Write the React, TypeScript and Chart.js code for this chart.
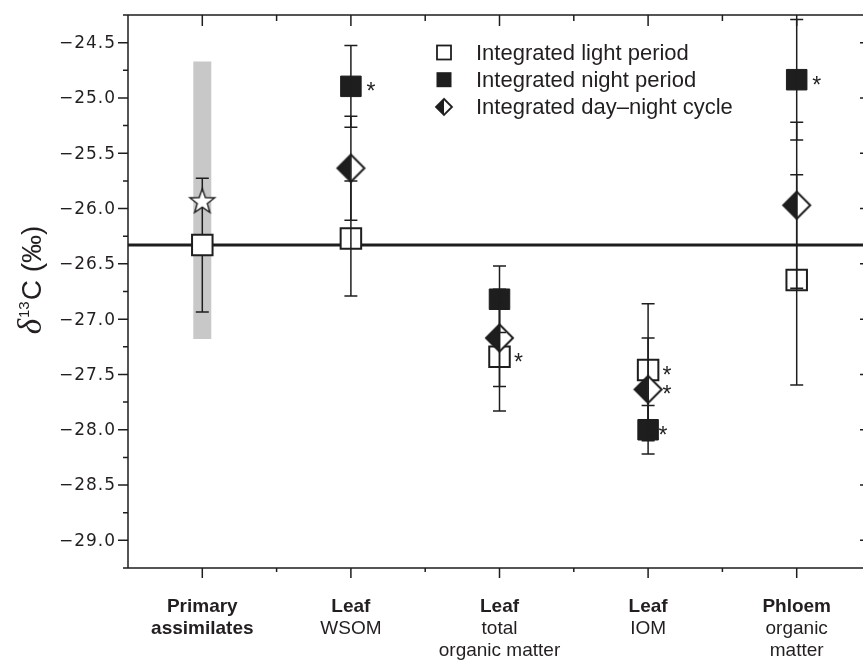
import React, { useEffect, useRef } from 'react';
import { Chart, registerables } from 'chart.js';

Chart.register(...registerables);

// ---------- data ----------
const categoryBoldLines: string[][] = [['Primary', 'assimilates'], ['Leaf'], ['Leaf'], ['Leaf'], ['Phloem']];
const categoryNormalLines: string[][] = [[], ['WSOM'], ['total', 'organic matter'], ['IOM'], ['organic', 'matter']];

const lightMean = [-26.33, -26.27, -27.34, -27.46, -26.645];
const lightErr = [0.605, 0.52, 0.49, 0.6, 0.95];
const nightMean: (number | null)[] = [null, -24.895, -26.82, -28.0, -24.835];
const nightErr: (number | null)[] = [null, 0.37, 0.3, 0.22, 0.545];
const cycleMean: (number | null)[] = [null, -25.635, -27.17, -27.635, -25.97];
const cycleErr: (number | null)[] = [null, 0.47, 0.44, 0.465, 0.75];
const primaryStarValue = [-25.93];
const primaryRange = [-27.18, -24.67];
const referenceValue = -26.33;

const lightSig = [false, false, true, true, false];
const nightSig = [false, true, false, true, true];
const cycleSig = [false, false, false, true, false];

const yTickValues = [-29, -28.5, -28, -27.5, -27, -26.5, -26, -25.5, -25, -24.5];
const legendLabels = ['Integrated light period', 'Integrated night period', 'Integrated day\u2013night cycle'];

const INK = '#1e1e1e';
const TEXT = '#231f20';

function makeDiamond(half: number, lw: number): HTMLCanvasElement {
  const s = Math.ceil(half * 2 + lw * 2 + 2);
  const c = document.createElement('canvas');
  c.width = s;
  c.height = s;
  const g = c.getContext('2d')!;
  const m = s / 2;
  const path = () => {
    g.beginPath();
    g.moveTo(m, m - half);
    g.lineTo(m + half, m);
    g.lineTo(m, m + half);
    g.lineTo(m - half, m);
    g.closePath();
  };
  path();
  g.fillStyle = '#fff';
  g.fill();
  g.beginPath();
  g.moveTo(m, m - half);
  g.lineTo(m - half, m);
  g.lineTo(m, m + half);
  g.closePath();
  g.fillStyle = INK;
  g.fill();
  path();
  g.lineWidth = lw;
  g.lineJoin = 'miter';
  g.strokeStyle = INK;
  g.stroke();
  return c;
}

function makeStar(outer: number, inner: number): HTMLCanvasElement {
  const s = Math.ceil(outer * 2 + 4);
  const c = document.createElement('canvas');
  c.width = s;
  c.height = s;
  const g = c.getContext('2d')!;
  const cx = s / 2;
  const cy = s / 2 + 1;
  g.beginPath();
  for (let k = 0; k < 10; k++) {
    const r = k % 2 === 0 ? outer : inner;
    const a = -Math.PI / 2 + (k * Math.PI) / 5;
    const px = cx + r * Math.cos(a);
    const py = cy + r * Math.sin(a);
    if (k === 0) g.moveTo(px, py);
    else g.lineTo(px, py);
  }
  g.closePath();
  g.fillStyle = '#fff';
  g.fill();
  g.lineWidth = 1.4;
  g.strokeStyle = INK;
  g.stroke();
  return c;
}

function fmtTick(v: number): string {
  return v.toFixed(1).replace('-', '\u2212');
}

function drawErrorBar(ctx: CanvasRenderingContext2D, chart: any, x: number, mean: number, err: number) {
  const xs = chart.scales.x;
  const ys = chart.scales.y;
  const px = xs.getPixelForValue(x);
  const t = ys.getPixelForValue(mean + err);
  const b = ys.getPixelForValue(mean - err);
  ctx.save();
  ctx.strokeStyle = INK;
  ctx.lineWidth = 1.5;
  ctx.beginPath();
  ctx.moveTo(px, t);
  ctx.lineTo(px, b);
  ctx.moveTo(px - 6.5, t);
  ctx.lineTo(px + 6.5, t);
  ctx.moveTo(px - 6.5, b);
  ctx.lineTo(px + 6.5, b);
  ctx.stroke();
  ctx.restore();
}

const customPlugin = {
  id: 'customDecor',
  afterDatasetDraw(chart: any, args: any) {
    if (args.meta && args.meta.label === 'reference') {
      drawErrorBar(chart.ctx, chart, 0, lightMean[0], lightErr[0]);
    }
  },
  afterDatasetsDraw(chart: any) {
    const ctx: CanvasRenderingContext2D = chart.ctx;
    const xs = chart.scales.x;
    const ys = chart.scales.y;
    for (let i = 1; i < lightMean.length; i++) {
      drawErrorBar(ctx, chart, i, lightMean[i], lightErr[i]);
      if (nightMean[i] != null) drawErrorBar(ctx, chart, i, nightMean[i] as number, nightErr[i] as number);
      if (cycleMean[i] != null) drawErrorBar(ctx, chart, i, cycleMean[i] as number, cycleErr[i] as number);
    }
    ctx.save();
    ctx.fillStyle = TEXT;
    ctx.font = '23px "Liberation Sans", Arial, sans-serif';
    ctx.textAlign = 'center';
    ctx.textBaseline = 'alphabetic';
    const star = (i: number, v: number, dx: number) => {
      const px = xs.getPixelForValue(i) + dx;
      const py = ys.getPixelForValue(v);
      ctx.fillText('*', px, py + 13);
    };
    for (let i = 0; i < lightMean.length; i++) {
      if (lightSig[i]) star(i, lightMean[i], 19);
      if (nightSig[i] && nightMean[i] != null) star(i, nightMean[i] as number, i === 3 ? 15 : 20);
      if (cycleSig[i] && cycleMean[i] != null) star(i, cycleMean[i] as number, 19);
    }
    ctx.restore();
  },
  afterDraw(chart: any) {
    const ctx: CanvasRenderingContext2D = chart.ctx;
    const { left, right, top, bottom } = chart.chartArea;
    const xs = chart.scales.x;
    const ys = chart.scales.y;
    ctx.save();
    ctx.strokeStyle = INK;
    ctx.lineWidth = 1.5;
    ctx.beginPath();
    ctx.moveTo(left, top);
    ctx.lineTo(right, top);
    ctx.moveTo(left, top);
    ctx.lineTo(left, bottom);
    ctx.moveTo(left, bottom);
    ctx.lineTo(right, bottom);
    ctx.moveTo(right, top);
    ctx.lineTo(right, bottom);
    const yMin = ys.min;
    const yMax = ys.max;
    yTickValues.forEach((v) => {
      const py = ys.getPixelForValue(v);
      ctx.moveTo(left - 10, py);
      ctx.lineTo(left, py);
      ctx.moveTo(right - 11, py);
      ctx.lineTo(right, py);
    });
    const minorY = [yTickValues[0] - 0.25, ...yTickValues.map((v) => v + 0.25)];
    minorY.forEach((v) => {
      if (v < yMin - 1e-6 || v > yMax + 1e-6) return;
      const py = ys.getPixelForValue(v);
      ctx.moveTo(left - 5, py);
      ctx.lineTo(left, py);
    });
    for (let i = 0; i < categoryBoldLines.length; i++) {
      const px = xs.getPixelForValue(i);
      ctx.moveTo(px, top);
      ctx.lineTo(px, top + 11);
      ctx.moveTo(px, bottom);
      ctx.lineTo(px, bottom + 10);
    }
    for (let i = 0; i < categoryBoldLines.length - 1; i++) {
      const px = xs.getPixelForValue(i + 0.5);
      ctx.moveTo(px, top);
      ctx.lineTo(px, top + 6);
      ctx.moveTo(px, bottom);
      ctx.lineTo(px, bottom + 4);
    }
    ctx.stroke();

    // y tick labels
    ctx.fillStyle = TEXT;
    ctx.font = '17px "DejaVu Sans", sans-serif';
    (ctx as any).letterSpacing = '1px';
    ctx.textAlign = 'right';
    ctx.textBaseline = 'middle';
    yTickValues.forEach((v) => {
      ctx.fillText(fmtTick(v), left - 12, ys.getPixelForValue(v) + 1);
    });
    (ctx as any).letterSpacing = '0px';

    // category labels
    ctx.textAlign = 'center';
    ctx.textBaseline = 'alphabetic';
    for (let i = 0; i < categoryBoldLines.length; i++) {
      const px = xs.getPixelForValue(i);
      let by = bottom + 44;
      ctx.font = 'bold 19px "Liberation Sans", Arial, sans-serif';
      categoryBoldLines[i].forEach((t) => {
        ctx.fillText(t, px, by);
        by += 22;
      });
      ctx.font = '19px "Liberation Sans", Arial, sans-serif';
      categoryNormalLines[i].forEach((t) => {
        ctx.fillText(t, px, by);
        by += 22;
      });
    }

    // legend
    const lx = left + 316;
    const ly = top + 37.5;
    ctx.font = '22px "Liberation Sans", Arial, sans-serif';
    ctx.textAlign = 'left';
    ctx.textBaseline = 'middle';
    legendLabels.forEach((t, k) => {
      const cy = ly + k * 27.2;
      if (k === 0) {
        ctx.fillStyle = '#fff';
        ctx.fillRect(lx - 7, cy - 7, 14, 14);
        ctx.lineWidth = 1.8;
        ctx.strokeStyle = INK;
        ctx.strokeRect(lx - 7, cy - 7, 14, 14);
      } else if (k === 1) {
        ctx.fillStyle = INK;
        ctx.fillRect(lx - 7.5, cy - 7.5, 15, 15);
      } else {
        const d = makeDiamond(8, 1.8);
        ctx.drawImage(d, lx - d.width / 2, cy - d.height / 2);
      }
      ctx.fillStyle = TEXT;
      ctx.fillText(t, lx + 32, cy + 1);
    });

    // y-axis title
    ctx.save();
    ctx.translate(41, top + 265);
    ctx.rotate(-Math.PI / 2);
    ctx.textBaseline = 'alphabetic';
    ctx.textAlign = 'left';
    const parts = [
      { t: '\u03B4', f: 'italic 33px "Liberation Serif", "DejaVu Serif", serif', dy: 0, gap: 1 },
      { t: '13', f: '15px "Liberation Sans", Arial, sans-serif', dy: -12, gap: 1 },
      { t: 'C (\u2030)', f: '28px "Liberation Sans", Arial, sans-serif', dy: 0, gap: 0 },
    ];
    let total = 0;
    const widths = parts.map((p) => {
      ctx.font = p.f;
      const w = ctx.measureText(p.t).width;
      total += w + p.gap;
      return w;
    });
    let cx = -total / 2;
    parts.forEach((p, k) => {
      ctx.font = p.f;
      ctx.fillStyle = TEXT;
      ctx.fillText(p.t, cx, p.dy);
      cx += widths[k] + p.gap;
    });
    ctx.restore();

    ctx.restore();
  },
};

export default function App() {
  const ref = useRef<HTMLCanvasElement | null>(null);

  useEffect(() => {
    if (!ref.current) return;
    const diamond = makeDiamond(13.5, 2);
    const starImg = makeStar(13, 5.3);

    const toPts = (arr: (number | null)[]) =>
      arr.map((y, i) => (y == null ? null : { x: i, y })).filter((p) => p !== null) as { x: number; y: number }[];

    const chart = new Chart(ref.current, {
      type: 'scatter',
      data: {
        datasets: [
          {
            type: 'line',
            label: 'range',
            data: [
              { x: 0, y: primaryRange[0] },
              { x: 0, y: primaryRange[1] },
            ],
            borderColor: '#c8c8c8',
            borderWidth: 18,
            borderCapStyle: 'butt',
            pointRadius: 0,
            order: 10,
          } as any,
          {
            type: 'line',
            label: 'reference',
            data: [
              { x: -0.5, y: referenceValue },
              { x: 4.5, y: referenceValue },
            ],
            borderColor: INK,
            borderWidth: 3,
            pointRadius: 0,
            order: 9,
          } as any,
          {
            label: legendLabels[0],
            data: toPts(lightMean),
            pointStyle: 'rect',
            pointRadius: 14.5,
            backgroundColor: '#fff',
            borderColor: INK,
            borderWidth: 2,
            order: 5,
          },
          {
            label: legendLabels[1],
            data: toPts(nightMean),
            pointStyle: 'rect',
            pointRadius: 14.5,
            backgroundColor: INK,
            borderColor: INK,
            borderWidth: 1,
            order: 4,
          },
          {
            label: legendLabels[2],
            data: toPts(cycleMean),
            pointStyle: diamond as any,
            pointRadius: 13,
            order: 3,
          },
          {
            label: 'Primary assimilates',
            data: primaryStarValue.map((y) => ({ x: 0, y })),
            pointStyle: starImg as any,
            pointRadius: 12,
            order: 2,
          },
        ],
      },
      options: {
        responsive: false,
        animation: false,
        events: [],
        devicePixelRatio: 1,
        layout: { autoPadding: false, padding: { left: 128, top: 15, right: 9, bottom: 93 } },
        plugins: {
          legend: { display: false },
          tooltip: { enabled: false },
        },
        scales: {
          x: {
            type: 'linear',
            min: -0.5,
            max: 4.5,
            display: false,
            ticks: { display: false },
            grid: { display: false, drawTicks: false },
          },
          y: {
            type: 'linear',
            min: -29.25,
            max: -24.25,
            display: false,
            ticks: { display: false },
            grid: { display: false, drawTicks: false },
          },
        },
      },
      plugins: [customPlugin],
    });
    return () => chart.destroy();
  }, []);

  return (
    <div
      style={{
        position: 'fixed',
        left: 0,
        top: 0,
        width: 863,
        height: 661,
        overflow: 'hidden',
        background: '#fff',
      }}
    >
      <canvas ref={ref} width={880} height={661} style={{ display: 'block', width: 880, height: 661 }} />
    </div>
  );
}
